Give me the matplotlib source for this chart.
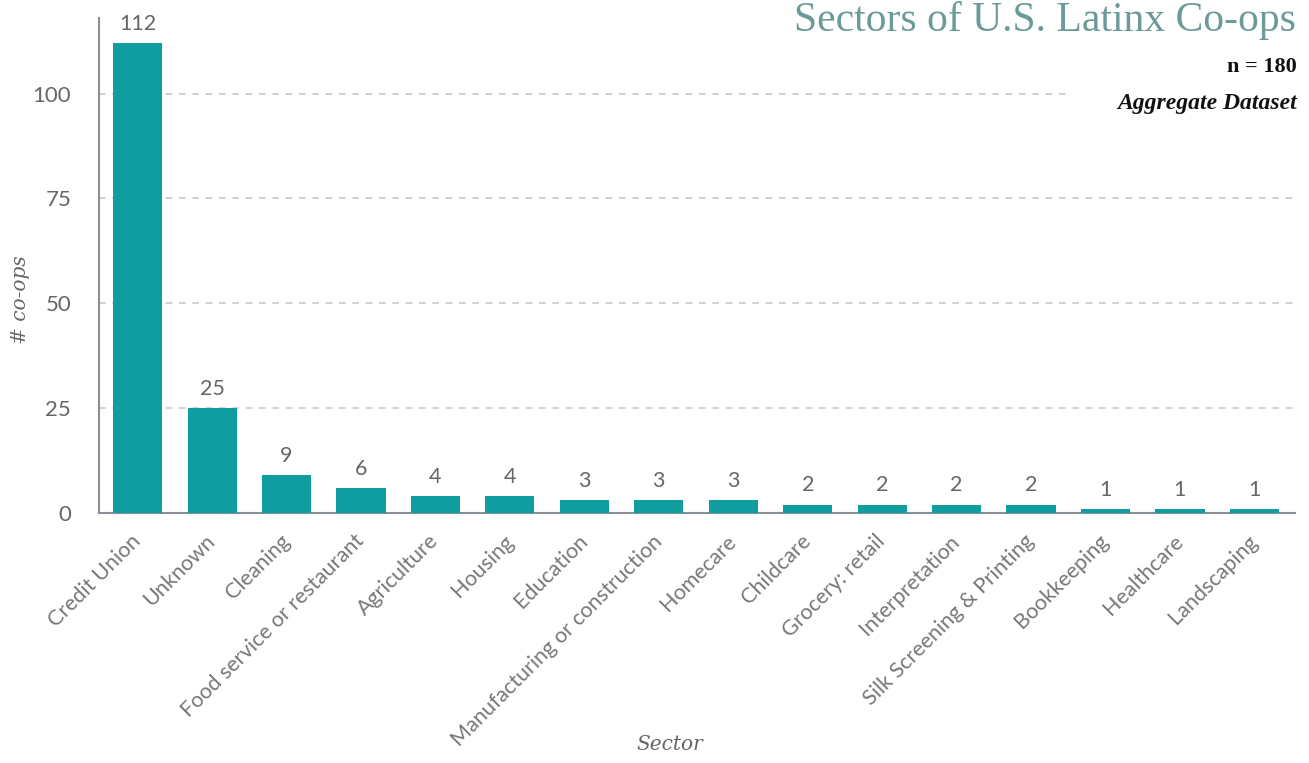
import matplotlib
matplotlib.use("Agg")
import matplotlib.pyplot as plt
from matplotlib.transforms import ScaledTranslation

sectors = ["Credit Union", "Unknown", "Cleaning", "Food service or restaurant", "Agriculture",
           "Housing", "Education", "Manufacturing or construction", "Homecare", "Childcare",
           "Grocery: retail", "Interpretation", "Silk Screening & Printing", "Bookkeeping",
           "Healthcare", "Landscaping"]
counts = [112, 25, 9, 6, 4, 4, 3, 3, 3, 2, 2, 2, 2, 1, 1, 1]
yticks = [0, 25, 50, 75, 100]

fig = plt.figure(figsize=(13.09, 7.63), dpi=100)
ax = fig.add_axes([0.0756, 0.3277, 0.9134, 0.6487])

x = list(range(len(sectors)))
ax.bar(x, counts, width=0.66, color="#109da0", zorder=3)
for xi, v in zip(x, counts):
    ax.text(xi, v + 2.2, str(v), ha="center", va="bottom", fontsize=15.5,
            family="Lato", color="#666666")

ax.set_xlim(-0.52, 15.54)
ax.set_ylim(0, 118)
ax.set_yticks(yticks)
ax.set_yticklabels([str(t) for t in yticks], family="Lato", fontsize=16, color="#666666")
ax.set_xticks(x)
ax.set_xticklabels(sectors, rotation=45, ha="right", rotation_mode="anchor",
                   family="Lato", fontsize=15.5, color="#777777")
ax.tick_params(axis="x", length=0, pad=13)
ax.tick_params(axis="y", length=0, pad=20)
shift = ScaledTranslation(-7 / 100, 0, fig.dpi_scale_trans)
for lbl in ax.get_xticklabels():
    lbl.set_transform(lbl.get_transform() + shift)

for t in yticks[1:]:
    xmax = 0.812 if t == 100 else 1.0
    ax.axhline(t, xmin=0.0, xmax=xmax, color="#c8c8c8", linestyle=(0, (4, 4)),
               linewidth=1.2, zorder=1)

for s in ["top", "right"]:
    ax.spines[s].set_visible(False)
for s in ["left", "bottom"]:
    ax.spines[s].set_color("#8a8f96")
    ax.spines[s].set_linewidth(1.5)

fig.text(0.0153, 0.607, "# co-ops", rotation=90, ha="center", va="center",
         family="DejaVu Serif", style="italic", fontsize=14.5, color="#666666")
fig.text(0.512, 0.012, "Sector", ha="center", va="bottom",
         family="DejaVu Serif", style="italic", fontsize=14.5, color="#666666")

fig.text(0.990, 0.999, "Sectors of U.S. Latinx Co-ops", ha="right", va="top",
         family="Liberation Serif", fontsize=30, color="#6b9a98")
fig.text(0.991, 0.912, "n = 180", ha="right", va="center",
         family="Liberation Serif", fontsize=16, fontweight="bold", color="#111111")
fig.text(0.991, 0.865, "Aggregate Dataset", ha="right", va="center",
         family="Liberation Serif", fontsize=17, fontweight="bold", style="italic",
         color="#111111")

fig.savefig("out.png", dpi=100, facecolor="white")
